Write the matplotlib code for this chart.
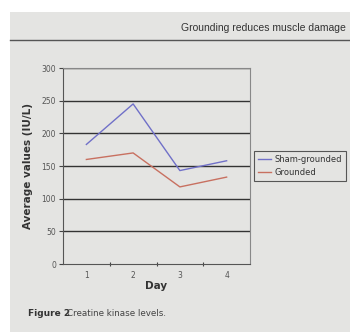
import matplotlib
matplotlib.use("Agg")
import matplotlib.pyplot as plt
from matplotlib.patches import Rectangle

days = ["1", "2", "3", "4"]
sham = [183, 245, 143, 158]
grounded = [160, 170, 118, 133]
yticks = [0, 50, 100, 150, 200, 250, 300]

W, H = 350, 332
fig = plt.figure(figsize=(W / 100, H / 100), dpi=100)
fig.patch.set_facecolor("white")
# page (photo) background
fig.patches.append(Rectangle((10 / W, 0), 1 - 10 / W, 1 - 12 / H, transform=fig.transFigure,
                             facecolor="#e4e4e2", edgecolor="none", zorder=-5))
# header line and text
fig.add_artist(plt.Line2D([10 / W, 1], [1 - 40 / H, 1 - 40 / H], color="#555555", lw=1.0))
fig.text(346 / W, 1 - 28 / H, "Grounding reduces muscle damage", ha="right", va="center",
         fontsize=7.5, color="#333333", family="Liberation Sans")
fig.text(28 / W, 1 - 313 / H, "Figure 2", ha="left", va="center", fontsize=6.5,
         fontweight="bold", color="#333333")
fig.text(67 / W, 1 - 313 / H, "Creatine kinase levels.", ha="left", va="center", fontsize=6.3,
         color="#444444")

ax = fig.add_axes([63 / W, 1 - 264 / H, 187 / W, 196 / H])
ax.set_zorder(2)
ax.set_facecolor("none")
x = list(range(1, len(days) + 1))
ax.plot(x, sham, color="#7070c8", lw=1.0, label="Sham-grounded", zorder=3)
ax.plot(x, grounded, color="#c87060", lw=1.0, label="Grounded", zorder=3)
ax.set_xlim(0.5, len(days) + 0.5)
ax.set_ylim(0, 300)
ax.set_yticks(yticks)
ax.set_yticklabels([str(v) for v in yticks], fontsize=5.5, color="#555555")
for v in yticks[1:]:
    ax.axhline(v, color="#333333", lw=1.0, zorder=1)
ax.set_xticks([1.5, 2.5, 3.5], minor=False)
ax.set_xticklabels([])
ax.set_xticks(x, minor=True)
ax.set_xticklabels(days, minor=True, fontsize=5.5, color="#555555")
ax.tick_params(axis="x", which="minor", length=0, pad=5)
ax.tick_params(axis="x", which="major", length=3, direction="inout", color="#444444")
ax.tick_params(axis="y", length=3, color="#444444", pad=2)
for s in ["top", "right"]:
    ax.spines[s].set_color("#888888")
    ax.spines[s].set_linewidth(0.8)
for s in ["left", "bottom"]:
    ax.spines[s].set_color("#555555")
    ax.spines[s].set_linewidth(0.8)
ax.set_xlabel("Day", fontsize=7.5, fontweight="bold", color="#333333", labelpad=1)
ax.set_ylabel("Average values (IU/L)", fontsize=7.5, fontweight="bold", color="#333333", labelpad=6)

leg = ax.legend(loc="center left", bbox_to_anchor=(1.02, 0.5), fontsize=6.0, frameon=True,
                fancybox=False, edgecolor="#333333", handlelength=1.6, borderpad=0.5,
                labelspacing=0.4, handletextpad=0.4, borderaxespad=0)
leg.get_frame().set_facecolor("none")
leg.get_frame().set_linewidth(0.8)
for t in leg.get_texts():
    t.set_color("#333333")

fig.savefig("out.png", dpi=100)
